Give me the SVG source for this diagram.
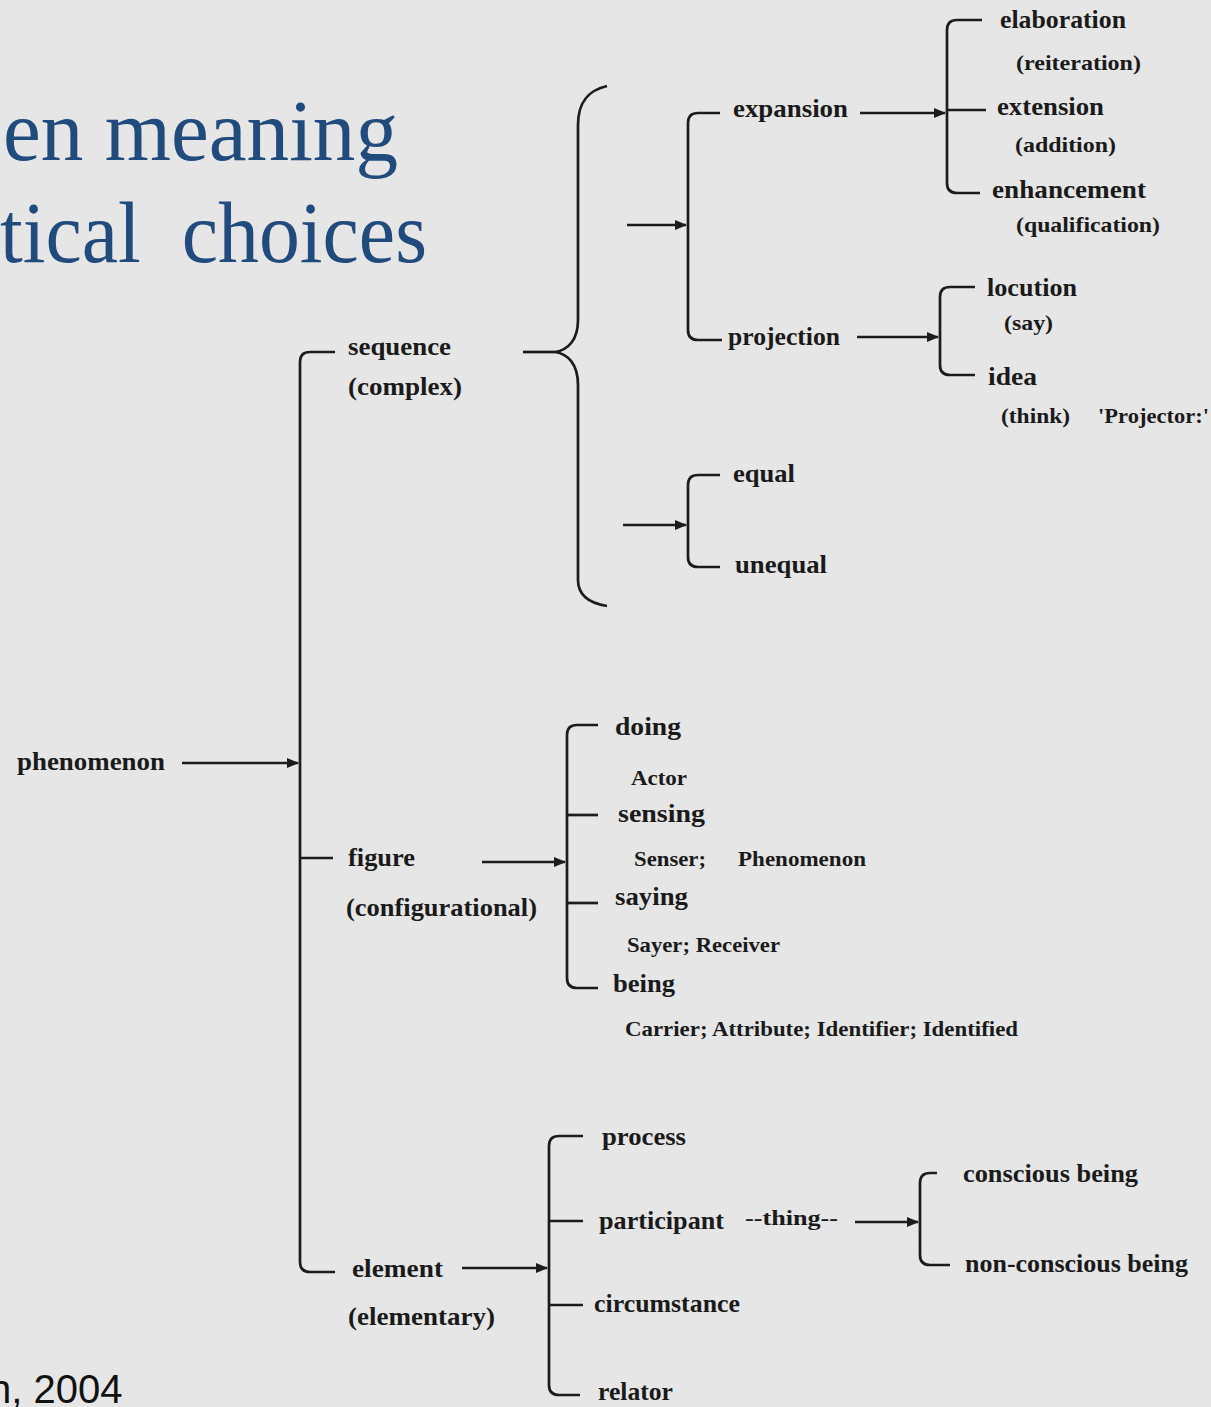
<svg xmlns="http://www.w3.org/2000/svg" width="1211" height="1407" viewBox="0 0 1211 1407">
<style>
.title{font-family:"Liberation Serif",serif;font-size:86px;fill:#214b7d}
.cite{font-family:"Liberation Sans",sans-serif;font-size:40px;fill:#111}
.t{font-family:"Liberation Serif",serif;font-weight:bold;font-size:25px;fill:#1a1a1a}
.s{font-family:"Liberation Serif",serif;font-weight:bold;font-size:22px;fill:#1a1a1a}
.ln{fill:none;stroke:#1c1c1c;stroke-width:2.7}
</style>
<defs>
<marker id="ah" markerUnits="userSpaceOnUse" markerWidth="12" markerHeight="10" refX="11" refY="5" orient="auto">
<path d="M0,0 L12,5 L0,10 z" fill="#1c1c1c"/>
</marker>
</defs>
<rect width="1211" height="1407" fill="#e6e6e6"/>

<g id="title">
<text class="title" x="3" y="160" textLength="395" lengthAdjust="spacingAndGlyphs">en meaning</text>
<text class="title" x="0" y="262" textLength="427" lengthAdjust="spacingAndGlyphs" xml:space="preserve">tical  choices</text>
</g>
<g id="citation">
<text class="cite" x="-11" y="1403">n, 2004</text>
</g>

<g id="connectors">
<path class="ln" d="M182,763 H298" marker-end="url(#ah)"/>
<path class="ln" d="M335,352 H310 Q300,352 300,362 V1262 Q300,1272 310,1272 H335"/>
<path class="ln" d="M300,858 H333"/>
<path class="ln" d="M523,352 H555"/>
<path class="ln" d="M607,86 C590,90 578,100 578,125 L578,320 C578,340 568,350 555,352 C568,354 578,364 578,385 L578,580 C578,595 588,603 607,606"/>
<path class="ln" d="M627,225 H686" marker-end="url(#ah)"/>
<path class="ln" d="M720,113 H698 Q688,113 688,123 V330 Q688,340 698,340 H722"/>
<path class="ln" d="M860,113 H945" marker-end="url(#ah)"/>
<path class="ln" d="M982,20 H957 Q947,20 947,30 V183 Q947,193 957,193 H980"/>
<path class="ln" d="M947,110 H986"/>
<path class="ln" d="M857,337 H938" marker-end="url(#ah)"/>
<path class="ln" d="M975,287 H950 Q940,287 940,297 V365 Q940,375 950,375 H975"/>
<path class="ln" d="M623,525 H686" marker-end="url(#ah)"/>
<path class="ln" d="M720,475 H698 Q688,475 688,485 V557 Q688,567 698,567 H720"/>
<path class="ln" d="M482,862 H565" marker-end="url(#ah)"/>
<path class="ln" d="M598,725 H577 Q567,725 567,735 V978 Q567,988 577,988 H598"/>
<path class="ln" d="M567,815 H598"/>
<path class="ln" d="M567,903 H598"/>
<path class="ln" d="M462,1268 H547" marker-end="url(#ah)"/>
<path class="ln" d="M583,1136 H559 Q549,1136 549,1146 V1385 Q549,1395 559,1395 H580"/>
<path class="ln" d="M549,1221 H583"/>
<path class="ln" d="M549,1305 H583"/>
<path class="ln" d="M855,1222 H918" marker-end="url(#ah)"/>
<path class="ln" d="M937,1173 H930 Q920,1173 920,1183 V1255 Q920,1265 930,1265 H950"/>
</g>

<g id="phenomenon"><text class="t" x="17" y="770" textLength="148" lengthAdjust="spacingAndGlyphs">phenomenon</text></g>
<g id="sequence">
<text class="t" x="348" y="355" textLength="103" lengthAdjust="spacingAndGlyphs">sequence</text>
<text class="t" x="348" y="395" textLength="114" lengthAdjust="spacingAndGlyphs">(complex)</text>
</g>
<g id="figure">
<text class="t" x="348" y="866" textLength="67" lengthAdjust="spacingAndGlyphs">figure</text>
<text class="t" x="346" y="916" textLength="191" lengthAdjust="spacingAndGlyphs">(configurational)</text>
</g>
<g id="element">
<text class="t" x="352" y="1277" textLength="91" lengthAdjust="spacingAndGlyphs">element</text>
<text class="t" x="348" y="1325" textLength="147" lengthAdjust="spacingAndGlyphs">(elementary)</text>
</g>
<g id="expansion"><text class="t" x="733" y="117" textLength="115" lengthAdjust="spacingAndGlyphs">expansion</text></g>
<g id="projection"><text class="t" x="728" y="345" textLength="112" lengthAdjust="spacingAndGlyphs">projection</text></g>
<g id="elaboration">
<text class="t" x="1000" y="28" textLength="126" lengthAdjust="spacingAndGlyphs">elaboration</text>
<text class="s" x="1016" y="70" textLength="125" lengthAdjust="spacingAndGlyphs">(reiteration)</text>
</g>
<g id="extension">
<text class="t" x="997" y="115" textLength="107" lengthAdjust="spacingAndGlyphs">extension</text>
<text class="s" x="1015" y="152" textLength="101" lengthAdjust="spacingAndGlyphs">(addition)</text>
</g>
<g id="enhancement">
<text class="t" x="992" y="198" textLength="154" lengthAdjust="spacingAndGlyphs">enhancement</text>
<text class="s" x="1016" y="232" textLength="144" lengthAdjust="spacingAndGlyphs">(qualification)</text>
</g>
<g id="locution">
<text class="t" x="987" y="296" textLength="90" lengthAdjust="spacingAndGlyphs">locution</text>
<text class="s" x="1004" y="330" textLength="49" lengthAdjust="spacingAndGlyphs">(say)</text>
</g>
<g id="idea">
<text class="t" x="988" y="385" textLength="49" lengthAdjust="spacingAndGlyphs">idea</text>
<text class="s" x="1001" y="423" textLength="69" lengthAdjust="spacingAndGlyphs">(think)</text>
<text class="s" x="1098" y="423" textLength="111" lengthAdjust="spacingAndGlyphs">'Projector:'</text>
</g>
<g id="equal"><text class="t" x="733" y="482" textLength="62" lengthAdjust="spacingAndGlyphs">equal</text></g>
<g id="unequal"><text class="t" x="735" y="573" textLength="92" lengthAdjust="spacingAndGlyphs">unequal</text></g>
<g id="doing">
<text class="t" x="615" y="735" textLength="66" lengthAdjust="spacingAndGlyphs">doing</text>
<text class="s" x="631" y="785" textLength="56" lengthAdjust="spacingAndGlyphs">Actor</text>
</g>
<g id="sensing">
<text class="t" x="618" y="822" textLength="87" lengthAdjust="spacingAndGlyphs">sensing</text>
<text class="s" x="634" y="866" textLength="72" lengthAdjust="spacingAndGlyphs">Senser;</text>
<text class="s" x="738" y="866" textLength="128" lengthAdjust="spacingAndGlyphs">Phenomenon</text>
</g>
<g id="saying">
<text class="t" x="615" y="905" textLength="73" lengthAdjust="spacingAndGlyphs">saying</text>
<text class="s" x="627" y="952" textLength="153" lengthAdjust="spacingAndGlyphs">Sayer; Receiver</text>
</g>
<g id="being">
<text class="t" x="613" y="992" textLength="62" lengthAdjust="spacingAndGlyphs">being</text>
<text class="s" x="625" y="1036" textLength="393" lengthAdjust="spacingAndGlyphs">Carrier; Attribute; Identifier; Identified</text>
</g>
<g id="process"><text class="t" x="602" y="1145" textLength="84" lengthAdjust="spacingAndGlyphs">process</text></g>
<g id="participant">
<text class="t" x="599" y="1229" textLength="125" lengthAdjust="spacingAndGlyphs">participant</text>
<text class="s" x="745" y="1225" textLength="93" lengthAdjust="spacingAndGlyphs">--thing--</text>
</g>
<g id="circumstance"><text class="t" x="594" y="1312" textLength="146" lengthAdjust="spacingAndGlyphs">circumstance</text></g>
<g id="relator"><text class="t" x="598" y="1400" textLength="75" lengthAdjust="spacingAndGlyphs">relator</text></g>
<g id="conscious"><text class="t" x="963" y="1182" textLength="175" lengthAdjust="spacingAndGlyphs">conscious being</text></g>
<g id="nonconscious"><text class="t" x="965" y="1272" textLength="223" lengthAdjust="spacingAndGlyphs">non-conscious being</text></g>
</svg>
